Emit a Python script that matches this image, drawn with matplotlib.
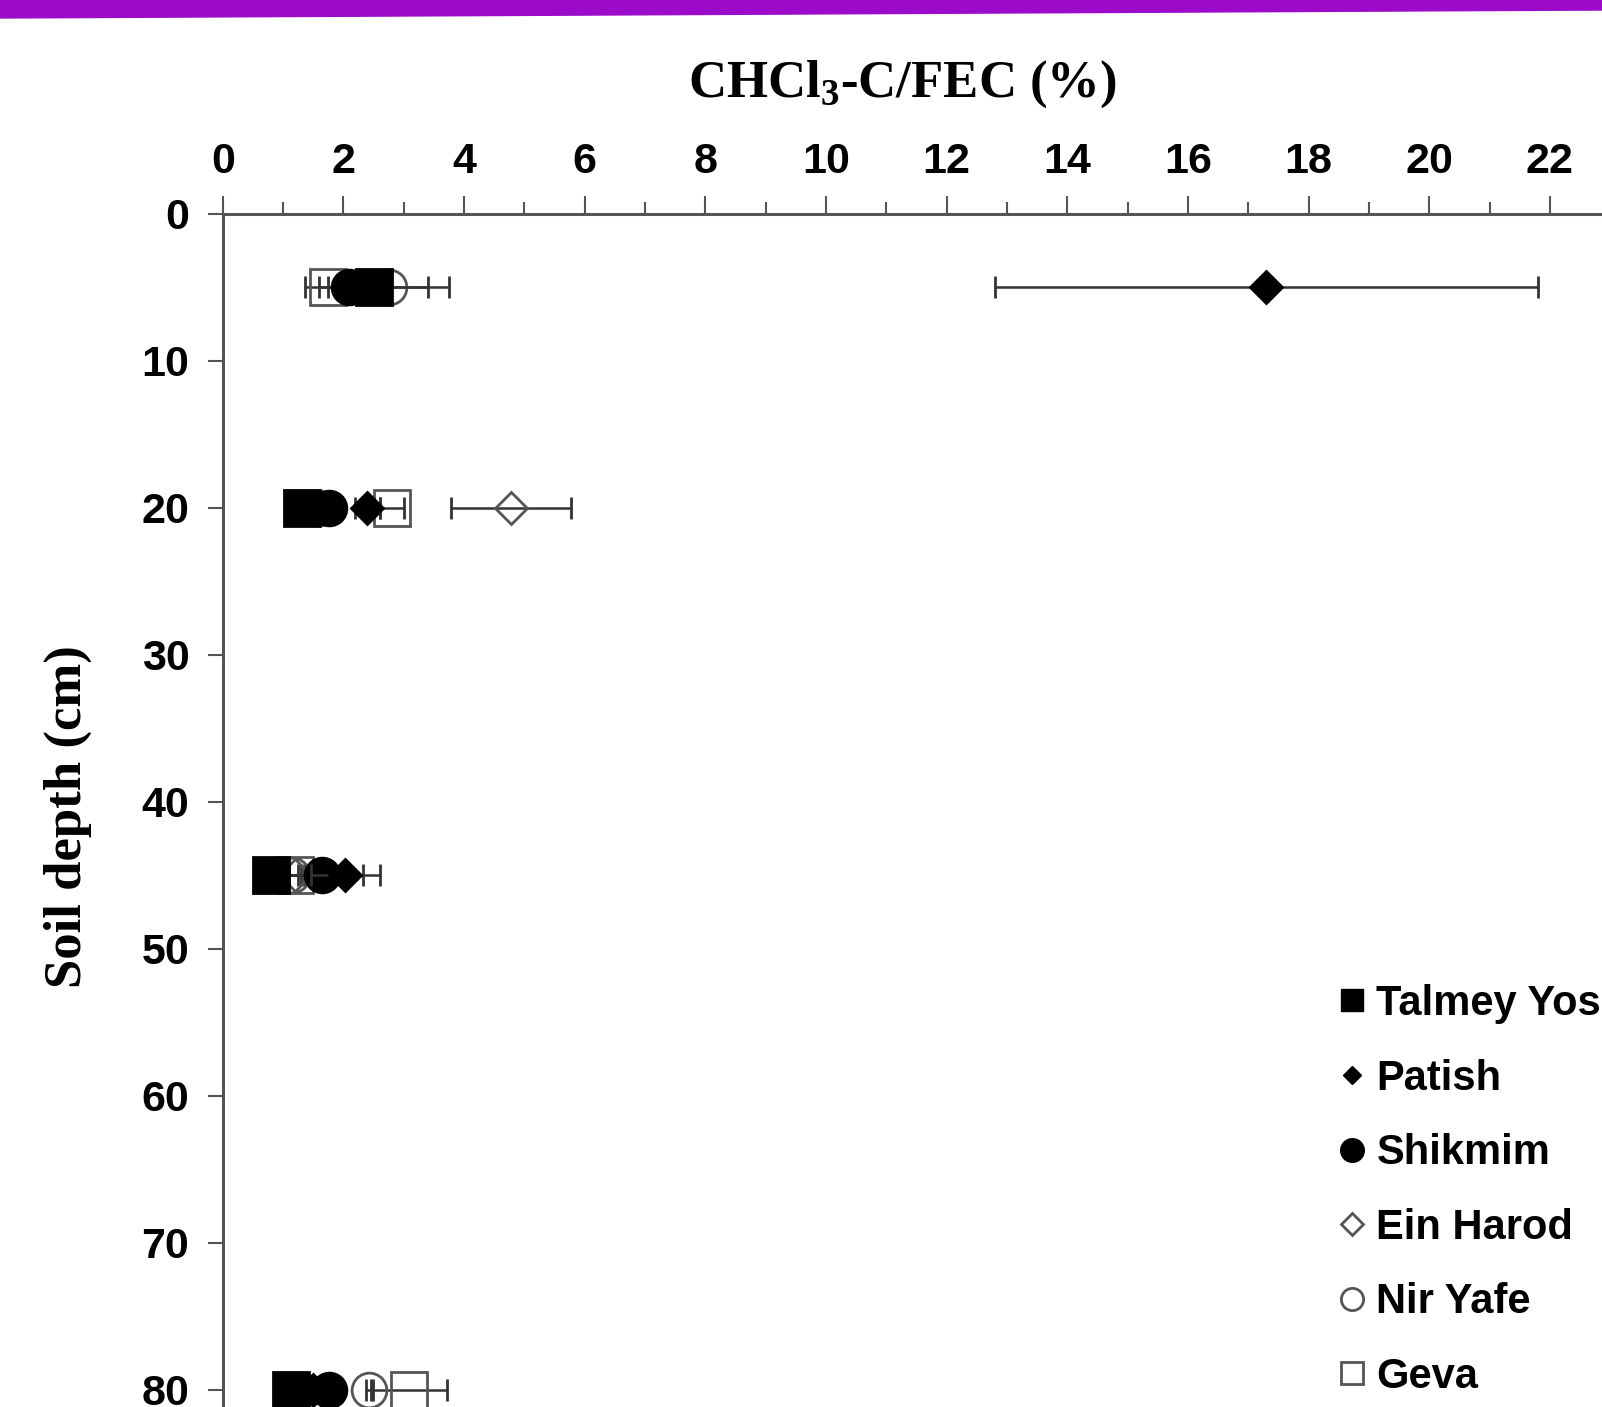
import matplotlib
matplotlib.use("Agg")
import matplotlib.pyplot as plt
from matplotlib.lines import Line2D
from matplotlib.patches import Polygon
from matplotlib.ticker import MultipleLocator

# Data: CHCl3-C/FEC (%) by soil depth (cm)
depths = [5, 20, 45, 80]
sites = ["Talmey Yosef", "Patish", "Shikmim", "Ein Harod", "Nir Yafe", "Geva"]

talmey = [2.5, 1.32, 0.8, 1.13]
talmey_err = [0.9, 0.15, 0.1, 0.1]
patish = [17.3, 2.4, 2.03, 1.5]
patish_err = [4.5, 0.2, 0.57, 0.1]
shikmim = [2.1, 1.76, 1.65, 1.77]
shikmim_err = [0.2, 0.2, 0.68, 0.1]
ein_harod = [2.3, 4.78, 1.2, 1.3]
ein_harod_err = [0.3, 1.0, 0.1, 0.1]
nir_yafe = [2.75, 1.6, 1.15, 2.43]
nir_yafe_err = [1.0, 0.2, 0.1, 0.06]
geva = [1.75, 2.8, 1.2, 3.09]
geva_err = [0.38, 0.2, 0.15, 0.63]

plt.rcParams["mathtext.fontset"] = "custom"
plt.rcParams["mathtext.rm"] = "Liberation Serif:bold"
plt.rcParams["mathtext.bf"] = "Liberation Serif:bold"

W, H = 1602, 1407
fig = plt.figure(figsize=(W / 100, H / 100), dpi=100)

# purple band on top
band = Polygon([(0, 1), (1, 1), (1, 1 - 10 / H), (0, 1 - 18 / H)],
               closed=True, transform=fig.transFigure, color="#9c0bc9")
fig.patches.append(band)

x0, y0 = 222.7, 213.5
ax = fig.add_axes([x0 / W, 0, (W - x0) / W, (H - y0) / H])

ecol = "#333333"
gray = "#555555"
styles = [
    (talmey, talmey_err, "s", "black", "black", 26, 4),
    (patish, patish_err, "D", "black", "black", 16, 5),
    (shikmim, shikmim_err, "o", "black", "black", 25, 4),
    (ein_harod, ein_harod_err, "D", "none", gray, 16, 3),
    (nir_yafe, nir_yafe_err, "o", "none", gray, 25, 3),
    (geva, geva_err, "s", "none", gray, 26, 3),
]
for vals, errs, mk, fc, ec, ms, z in styles:
    ax.errorbar(vals, depths, xerr=errs, fmt=mk, ms=ms, mfc=fc, mec=ec, mew=2,
                ecolor=ecol, elinewidth=1.8, capsize=8, capthick=1.8, zorder=z)

ax.set_xlim(0, (W - x0) / 60.33)
ax.set_ylim((H - y0) / 14.7, 0)

ax.xaxis.set_major_locator(MultipleLocator(2))
ax.xaxis.set_minor_locator(MultipleLocator(1))
ax.yaxis.set_major_locator(MultipleLocator(10))
ax.xaxis.tick_top()
ax.tick_params(axis="x", which="major", direction="out", length=13, width=1.5,
               color=gray, labelsize=31, pad=10)
ax.tick_params(axis="x", which="minor", direction="out", length=8.5, width=1.5, color=gray)
ax.tick_params(axis="y", which="major", direction="out", length=11, width=1.5,
               color=gray, labelsize=31, pad=13)
for lab in ax.get_xticklabels() + ax.get_yticklabels():
    lab.set_fontfamily("Liberation Sans")
    lab.set_fontweight("bold")

for s in ["right", "bottom"]:
    ax.spines[s].set_visible(False)
for s in ["top", "left"]:
    ax.spines[s].set_color(gray)
    ax.spines[s].set_linewidth(2.2)

fig.text(902 / W, 1 - 84 / H, r"CHCl$_3$-C/FEC (%)", ha="center", va="center",
         fontsize=38, fontfamily="Liberation Serif", fontweight="bold")
fig.text(68 / W, 1 - 817 / H, "Soil depth (cm)", ha="center", va="center", rotation=90,
         fontsize=38, fontfamily="Liberation Serif", fontweight="bold")

handles = [
    Line2D([], [], ls="none", marker="s", ms=16, mfc="black", mec="black"),
    Line2D([], [], ls="none", marker="D", ms=9, mfc="black", mec="black"),
    Line2D([], [], ls="none", marker="o", ms=17, mfc="black", mec="black"),
    Line2D([], [], ls="none", marker="D", ms=11, mfc="none", mec=gray, mew=2),
    Line2D([], [], ls="none", marker="o", ms=16, mfc="none", mec=gray, mew=2),
    Line2D([], [], ls="none", marker="s", ms=16, mfc="none", mec=gray, mew=2),
]
leg = fig.legend(handles, sites, loc="upper left", bbox_to_anchor=(1339 / W, 1 - 984 / H),
                 frameon=False, handlelength=0.6, handletextpad=0.3, labelspacing=0.83,
                 borderaxespad=0, borderpad=0,
                 prop={"family": "Liberation Sans", "weight": "bold", "size": 30})

fig.savefig("out.png", dpi=100)
